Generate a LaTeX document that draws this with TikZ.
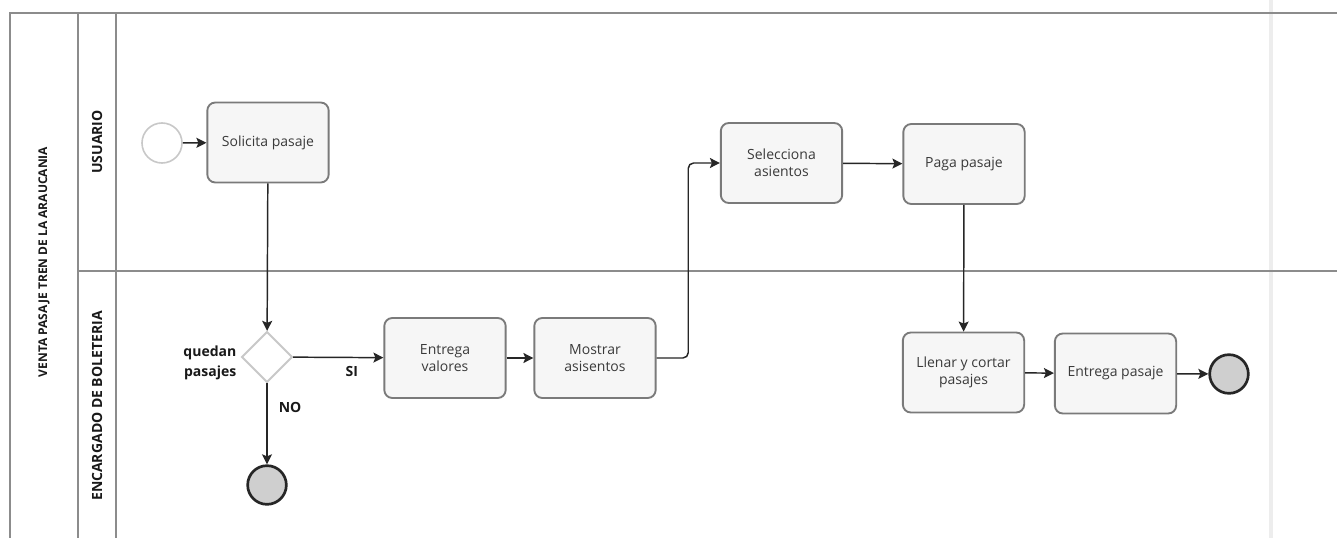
\documentclass[tikz,border=0pt]{standalone}
\usepackage{fontspec}
\setmainfont{Open Sans}
\usetikzlibrary{arrows.meta,shapes.geometric,calc}
\definecolor{laneline}{HTML}{8C8C8C}
\definecolor{taskedge}{HTML}{7A7A7A}
\definecolor{taskfill}{HTML}{F6F6F6}
\definecolor{tasktext}{HTML}{3A3A3A}
\definecolor{endfill}{HTML}{CFCFCF}
\definecolor{startedge}{HTML}{C8C8C8}
\begin{document}
\begin{tikzpicture}[x=0.75pt,y=-0.75pt,
  task/.style={draw=taskedge,line width=1.4pt,fill=taskfill,rounded corners=6pt,
    minimum width=91pt,minimum height=60pt,align=center,text=tasktext,
    font=\fontsize{10.5}{13}\selectfont,inner sep=2pt},
  startev/.style={circle,draw=startedge,line width=1.2pt,fill=white,minimum size=30pt,inner sep=0pt},
  endev/.style={circle,draw=black!85,line width=2pt,fill=endfill,minimum size=29pt,inner sep=0pt},
  gateway/.style={diamond,draw=startedge,line width=1.4pt,fill=white,minimum size=38pt,inner sep=0pt},
  flow/.style={draw=black!85,line width=1.1pt,-{Stealth[length=7.5pt,width=7.5pt,inset=1.5pt]}},
  lbl/.style={font=\bfseries\fontsize{10.5}{13}\selectfont,text=black!90},
  lanelbl/.style={font=\bfseries\fontsize{10.5}{13}\selectfont,text=black!90,rotate=90},
  lane/.style={draw=laneline,line width=0.8pt}
]
\useasboundingbox (0,0) rectangle (1337,538);
\fill[white] (0,0) rectangle (1337,538);

% faint vertical band on the right
\draw[gray!14,line width=3.5pt] (1271,0) -- (1271,538);

% pool and lane frame
\draw[lane] (1337,13) -- (10,13) -- (10,538);
\draw[lane] (78,13) -- (78,538);
\draw[lane] (116,13) -- (116,538);
\draw[lane] (78,271) -- (1337,271);

% pool and lane titles
\node[lanelbl,font=\bfseries\fontsize{9}{11}\selectfont] (pool) at (44,262) {VENTA PASAJE TREN DE LA ARAUCANIA};
\node[lanelbl] (usr) at (97,142) {USUARIO};
\node[lanelbl] (enc) at (97,406) {ENCARGADO DE BOLETERIA};

% flow elements
\node[startev] (start) at (162,143) {};
\node[task] (sol) at (268,142.5) {Solicita pasaje};
\node[gateway] (dec) at (267,357) {};
\node[lbl,align=right,anchor=east,font=\bfseries\fontsize{10.5}{15}\selectfont] (q) at (241,363) {quedan\\pasajes};
\node[endev] (end1) at (267,485) {};
\node[task] (ev) at (445,358) {Entrega\\valores};
\node[task] (ma) at (595,358) {Mostrar\\asisentos};
\node[task] (sel) at (781.5,163) {Selecciona\\asientos};
\node[task] (pp) at (964,164) {Paga pasaje};
\node[task] (ll) at (963.5,372.5) {Llenar y cortar\\pasajes};
\node[task] (ep) at (1115.5,373.5) {Entrega pasaje};
\node[endev] (end2) at (1229,374) {};

% sequence flows
\draw[flow] (start) -- (sol);
\draw[flow] (sol) -- (dec);
\draw[flow] (dec) -- node[lbl,pos=0.65,below=3pt] (si) {SI} (ev);
\draw[flow] (dec) -- node[lbl,pos=0.3,right=5pt] (no) {NO} (end1);
\draw[flow] (ev) -- (ma);
\draw[flow,rounded corners=4pt] (ma.east) -| ($(ma.east)!0.5!(sel.west)$) |- (sel.west);
\draw[flow] (sel) -- (pp);
\draw[flow] (pp) -- (ll);
\draw[flow] (ll) -- (ep);
\draw[flow] (ep) -- (end2);
\end{tikzpicture}
\end{document}
